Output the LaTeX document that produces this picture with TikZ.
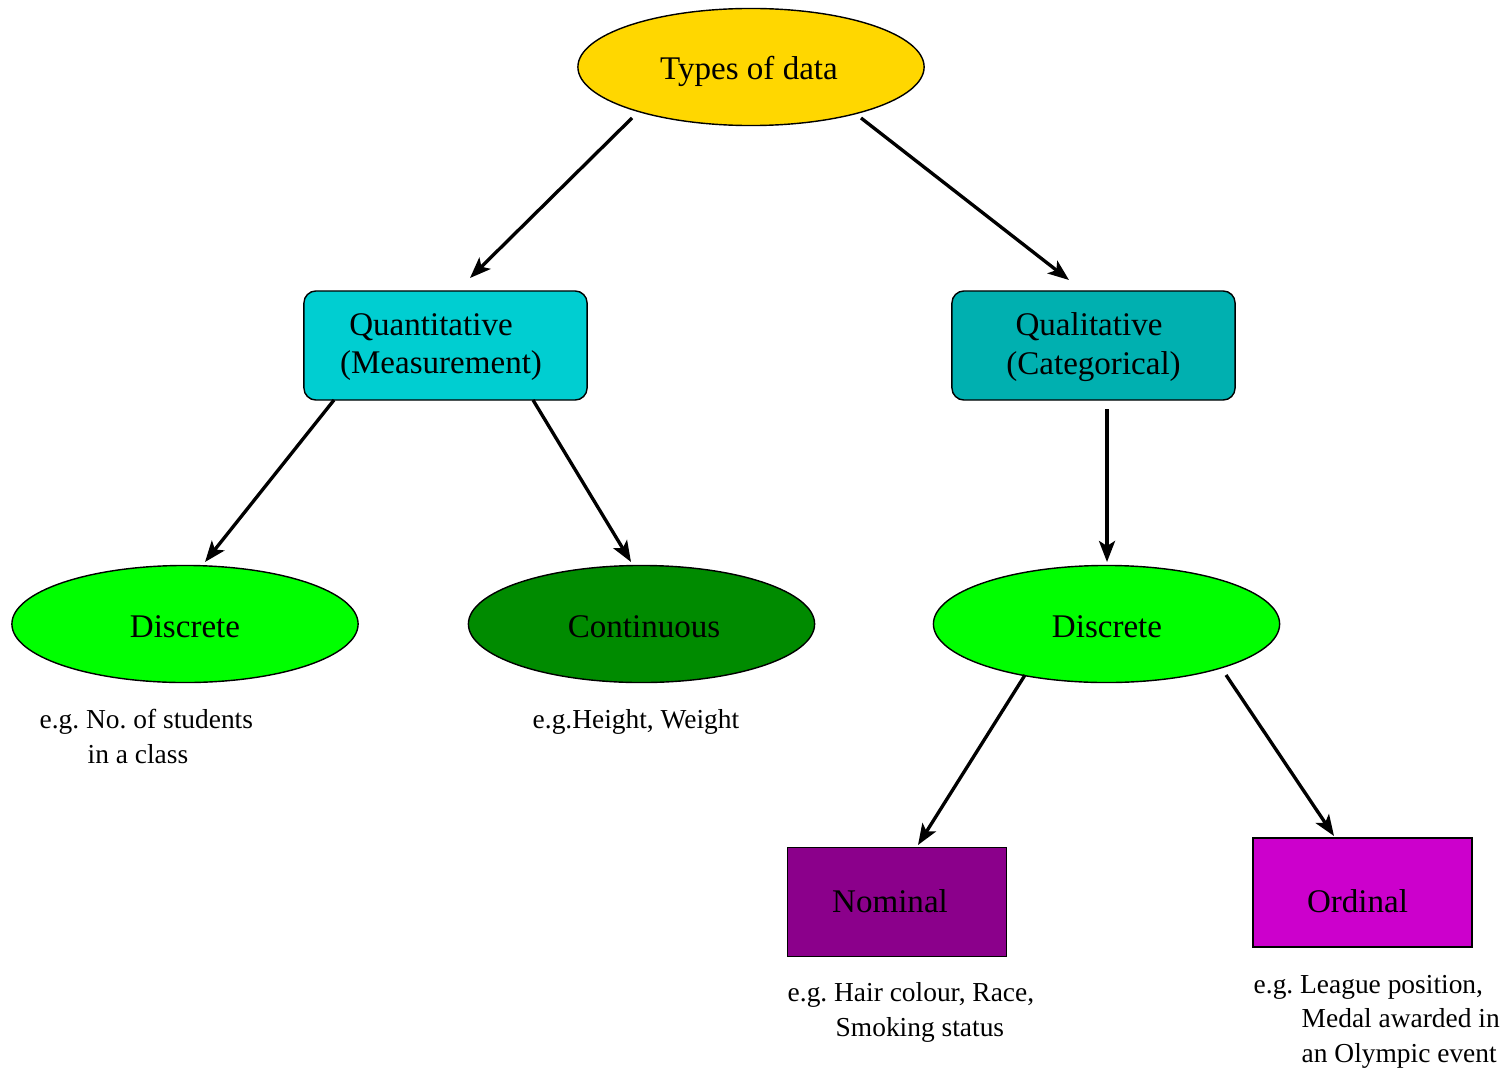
\documentclass[tikz,border=0pt]{standalone}
\usepackage{fontspec}
\setmainfont{Liberation Serif}
\usetikzlibrary{shapes.geometric,arrows.meta}
\definecolor{cgold}{HTML}{FFD700}
\definecolor{cquant}{HTML}{00CED1}
\definecolor{cqual}{HTML}{00B0B0}
\definecolor{cdisc}{HTML}{00FF00}
\definecolor{ccont}{HTML}{008B00}
\definecolor{cnom}{HTML}{8B008B}
\definecolor{cord}{HTML}{CC00CC}
\tikzset{
  x=0.01cm, y=-0.01cm,
  txt/.style={font=\fontsize{9.4}{11}\selectfont, align=center, inner sep=0pt},
  ell/.style={ellipse, draw=black, line width=0.4pt, minimum width=3.46cm, minimum height=1.17cm, inner sep=0pt},
  rbox/.style={rectangle, rounded corners=0.12cm, draw=black, line width=0.4pt, minimum width=2.83cm, minimum height=1.09cm},
  sbox/.style={rectangle, draw=black, line width=0.4pt, minimum width=2.19cm, minimum height=1.09cm},
  note/.style={anchor=base west, inner sep=0pt, font=\fontsize{7.8}{9}\selectfont},
  conn/.style={line width=0.95pt, -{Stealth[length=0.21cm, width=0.16cm, inset=0.05cm]}}
}
\begin{document}
\frenchspacing
\begin{tikzpicture}
\useasboundingbox (0,0) rectangle (1504,1073);
% nodes
\node[ell, fill=cgold] (types) at (751,67) {};
\node[txt] (typesT) at (749,71) {Types of data};
\node[rbox, fill=cquant] (quant) at (445.5,345.5) {};
\node[txt] (quantT) at (431,347) {Quantitative\\\hspace*{0.2cm}(Measurement)};
\node[rbox, fill=cqual] (qual) at (1093.5,345.5) {};
\node[txt] (qualT) at (1089,347) {Qualitative\\\hspace*{0.09cm}(Categorical)};
\node[ell, fill=cdisc] (disc1) at (185,624) {};
\node[txt] (disc1T) at (185,627) {Discrete};
\node[ell, fill=ccont] (cont) at (641.5,624) {};
\node[txt] (contT) at (644,627) {Continuous};
\node[ell, fill=cdisc] (disc2) at (1106.5,624) {};
\node[txt] (disc2T) at (1107,627) {Discrete};
\node[sbox, fill=cnom] (nom) at (897,902) {};
\node[txt] (nomT) at (890,901) {Nominal};
\node[sbox, fill=cord] (ord) at (1362.5,892.5) {};
\node[txt] (ordT) at (1357.5,901) {Ordinal};
% notes
\node[note] (n1a) at (39,728) {e.g. No. of students};
\node[note] (n1b) at (87,763) {in a class};
\node[note] (n2) at (532,728) {e.g.Height, Weight};
\node[note] (n3a) at (787,1001) {e.g. Hair colour, Race,};
\node[note] (n3b) at (835,1036) {Smoking status};
\node[note] (n4a) at (1253,993) {e.g. League position,};
\node[note] (n4b) at (1301,1027) {Medal awarded in};
\node[note] (n4c) at (1301,1062) {an Olympic event};
% connector end points
\coordinate (a1) at (632,118); \coordinate (a2) at (470,278);
\coordinate (b1) at (861,118); \coordinate (b2) at (1069,280);
\coordinate (c1) at (334,400); \coordinate (c2) at (205,562);
\coordinate (d1) at (533,400); \coordinate (d2) at (631,562);
\coordinate (e1) at (1107,409); \coordinate (e2) at (1107,562);
\coordinate (f1) at (1025,675); \coordinate (f2) at (918,845);
\coordinate (g1) at (1226,675); \coordinate (g2) at (1334,836);
\draw[conn] (a1) -- (a2);
\draw[conn] (b1) -- (b2);
\draw[conn] (c1) -- (c2);
\draw[conn] (d1) -- (d2);
\draw[conn] (e1) -- (e2);
\draw[conn] (f1) -- (f2);
\draw[conn] (g1) -- (g2);
\end{tikzpicture}
\end{document}
